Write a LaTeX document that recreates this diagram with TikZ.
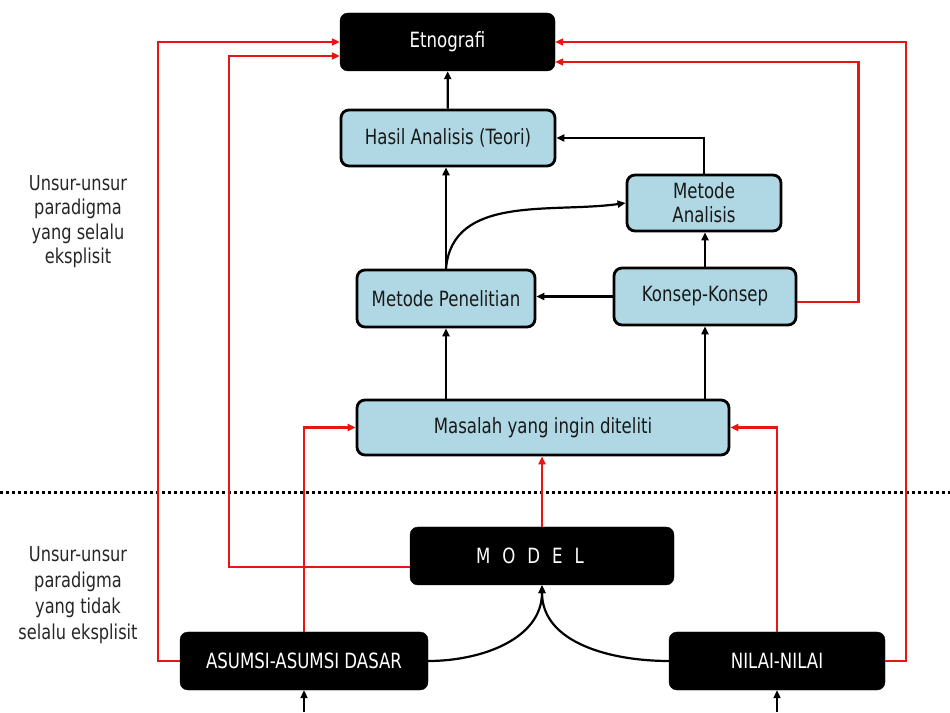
\documentclass[tikz,border=0pt]{standalone}
\usepackage{fontspec}
\setmainfont{DejaVu Sans}[FakeStretch=0.79]
\usepackage{xcolor}
\usetikzlibrary{arrows.meta,positioning}
\definecolor{boxblue}{RGB}{176,216,228}
\definecolor{linkred}{RGB}{235,20,20}

\begin{document}
\begin{tikzpicture}[x=1pt,y=1pt,>={Triangle[length=8pt,width=7pt]},every node/.style={font=\fontsize{21}{24}\selectfont},box/.style={draw,line width=2.8pt,rounded corners=8pt,align=center,inner sep=0pt,fill=boxblue,text=black!90},darkbox/.style={draw,fill=black,text=white,rounded corners=8pt,align=center,inner sep=0pt,minimum height=58pt},note/.style={align=center,text=black!85},link/.style={->,line width=2.2pt},redlink/.style={->,line width=2.3pt,draw=linkred}]
\useasboundingbox (0,0) rectangle (950,712);
\node[darkbox,minimum width=215pt] (etno) at (447.5,670) {Etnografi};
\node[box,minimum width=214pt,minimum height=56pt] (hasil) at (448,574) {Hasil Analisis (Teori)};
\node[box,minimum width=154pt,minimum height=56pt] (metana) at (704,509) {Metode\\Analisis};
\node[box,minimum width=178pt,minimum height=57pt] (metpen) at (446,413.5) {Metode Penelitian};
\node[box,minimum width=182pt,minimum height=57pt] (konsep) at (705,415.5) {Konsep-Konsep};
\node[box,minimum width=372pt,minimum height=55pt] (masalah) at (543,284.5) {Masalah yang ingin diteliti};
\node[darkbox,minimum width=264pt] (model) at (542,156) {M\hspace{12pt}O\hspace{12pt}D\hspace{12pt}E\hspace{12pt}L\hspace{24pt}};
\node[darkbox,minimum width=248pt] (asumsi) at (304,51) {ASUMSI-ASUMSI DASAR};
\node[darkbox,minimum width=216pt] (nilai) at (777,51) {NILAI-NILAI};
\node[note,font=\fontsize{20.5}{24.5}\selectfont] (explicit) at (78,490.5) {Unsur-unsur\\paradigma\\yang selalu\\eksplisit};
\node[note,font=\fontsize{20.5}{26}\selectfont] (implicit) at (78,117) {Unsur-unsur\\paradigma\\yang tidak\\selalu eksplisit};
\coordinate (asumsibase) at (304,0);
\coordinate (nilaibase) at (777,0);
% boundary between the two kinds of elements
\draw[line width=3pt,dash pattern=on 3pt off 3pt] (0,219) -- (950,219);
% black links
\draw[link] (hasil) -- (etno);
\draw[link] (metpen.north) -- (metpen.north |- hasil.south);
\draw[link] (metana.north) |- (hasil.east);
\draw[link] (metpen.north) to[out=85,in=188] (metana.west);
\draw[link] (konsep.north) -- (konsep.north |- metana.south);
\draw[link] (konsep.west) -- (konsep.west -| metpen.east);
\draw[link] (metpen.south |- masalah.north) -- (metpen.south);
\draw[link] (konsep.south |- masalah.north) -- (konsep.south);
\draw[link] (asumsi.east) to[out=0,in=-90] (model.south);
\draw[link] (nilai.west) to[out=180,in=-90] (model.south);
\draw[link] (asumsibase) -- (asumsi.south);
\draw[link] (nilaibase) -- (nilai.south);
% red links
\draw[redlink] (asumsi.west) -- ++(-22,0) |- (etno.west);
\draw[redlink] ([yshift=-11pt]model.west) -- ++(-181,0) |- ([yshift=-14pt]etno.west);
\draw[redlink] (asumsi.north) |- (masalah.west);
\draw[redlink] (model.north) -- (model.north |- masalah.south);
\draw[redlink] (nilai.north) |- (masalah.east);
\draw[redlink] (nilai.east) -- ++(21,0) |- (etno.east);
\draw[redlink] ([yshift=-5.5pt]konsep.east) -- ++(61,0) |- ([yshift=-20pt]etno.east);
\end{tikzpicture}
\end{document}
